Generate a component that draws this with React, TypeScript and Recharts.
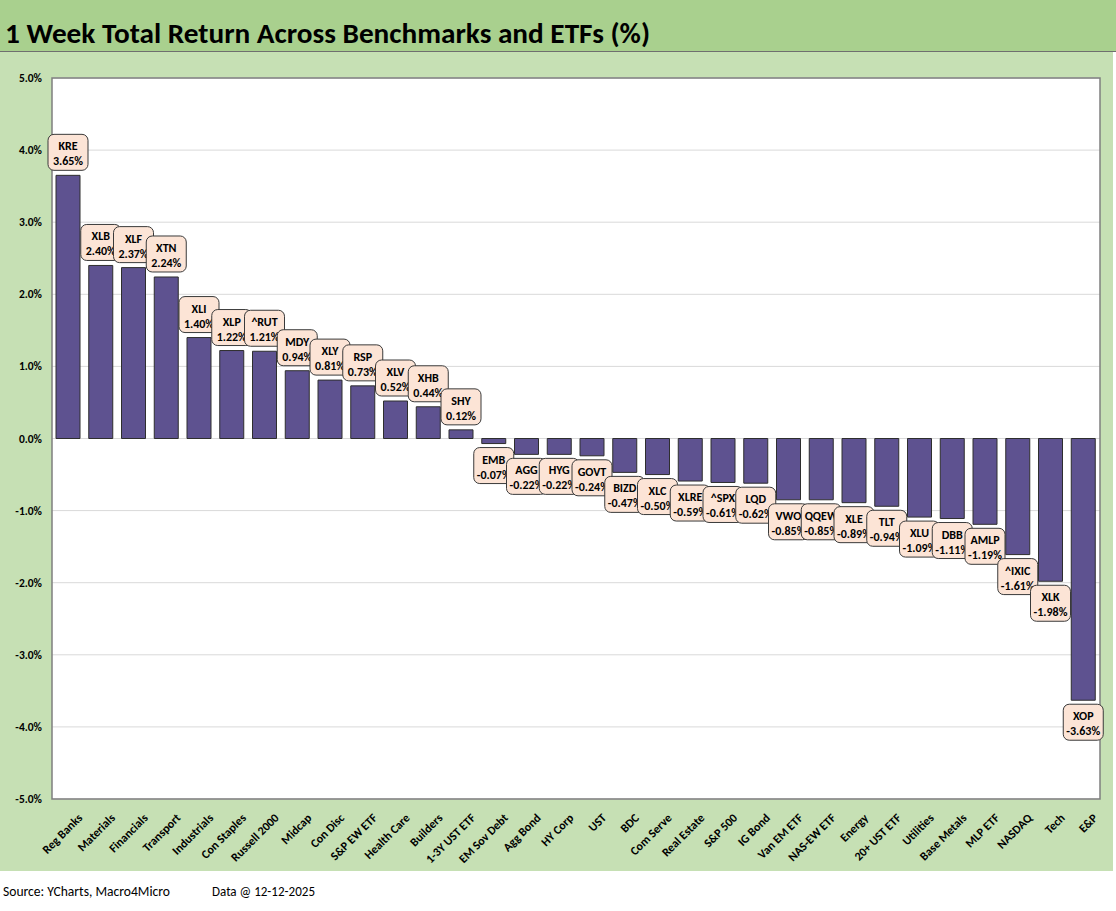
import React from 'react';
import { BarChart, Bar, XAxis, YAxis, CartesianGrid, LabelList, ReferenceArea } from 'recharts';

const categories = [
  'Reg Banks', 'Materials', 'Financials', 'Transport', 'Industrials', 'Con Staples', 'Russell 2000',
  'Midcap', 'Con Disc', 'S&P EW ETF', 'Health Care', 'Builders', '1-3Y UST ETF', 'EM Sov Debt',
  'Agg Bond', 'HY Corp', 'UST', 'BDC', 'Com Serve', 'Real Estate', 'S&P 500', 'IG Bond',
  'Van EM ETF', 'NAS-EW ETF', 'Energy', '20+ UST ETF', 'Utilities', 'Base Metals', 'MLP ETF',
  'NASDAQ', 'Tech', 'E&P',
];

const tickers = [
  'KRE', 'XLB', 'XLF', 'XTN', 'XLI', 'XLP', '^RUT', 'MDY', 'XLY', 'RSP', 'XLV', 'XHB', 'SHY', 'EMB',
  'AGG', 'HYG', 'GOVT', 'BIZD', 'XLC', 'XLRE', '^SPX', 'LQD', 'VWO', 'QQEW', 'XLE', 'TLT', 'XLU',
  'DBB', 'AMLP', '^IXIC', 'XLK', 'XOP',
];

const returns = [
  3.65, 2.40, 2.37, 2.24, 1.40, 1.22, 1.21, 0.94, 0.81, 0.73, 0.52, 0.44, 0.12, -0.07,
  -0.22, -0.22, -0.24, -0.47, -0.50, -0.59, -0.61, -0.62, -0.85, -0.85, -0.89, -0.94, -1.09,
  -1.11, -1.19, -1.61, -1.98, -3.63,
];

const yTicks = [-5, -4, -3, -2, -1, 0, 1, 2, 3, 4, 5];

const titleText = '1 Week Total Return Across Benchmarks and ETFs (%)';
const sourceText = 'Source: YCharts, Macro4Micro';
const dateText = 'Data @ 12-12-2025';

const data = categories.map((name, i) => ({ name, ticker: tickers[i], value: returns[i] }));

const FONT = 'Carlito, Lato, "Open Sans", sans-serif';

function BoxLabel(props: any) {
  const { x, y, width, height, index } = props;
  const v = returns[index];
  const cx = x + width / 2;
  const top = Math.min(y, y + height);
  const bottom = Math.max(y, y + height);
  const bw = 40;
  const bh = 36;
  const by = v >= 0 ? top - 5 - bh : bottom + 4;
  return (
    <g>
      <rect x={cx - bw / 2} y={by} width={bw} height={bh} rx={6} ry={6} fill="#FCE4D6" stroke="#3a3a3a" strokeWidth={1} />
      <text x={cx} y={by + 16} textAnchor="middle" fontFamily={FONT} fontWeight="bold" fontSize={12} fill="#000">
        {tickers[index]}
      </text>
      <text x={cx} y={by + 31} textAnchor="middle" fontFamily={FONT} fontWeight="bold" fontSize={12} fill="#000">
        {v.toFixed(2)}%
      </text>
    </g>
  );
}

function XTick(props: any) {
  const { x, y, payload } = props;
  return (
    <g transform={`translate(${x + 9},${y + 6}) rotate(-45)`}>
      <text x={0} y={0} dy={8} textAnchor="end" fontFamily={FONT} fontWeight="bold" fontSize={12} fill="#000">
        {payload.value}
      </text>
    </g>
  );
}

export default function App() {
  return (
    <div style={{ position: 'absolute', left: 0, top: 0, width: 1116, height: 911, background: '#fff', overflow: 'hidden' }}>
      <div style={{ position: 'absolute', left: 0, top: 0, width: 1116, height: 51, background: '#A9D08E', borderBottom: '1px solid #6f6f6f' }}>
        <svg width={1116} height={51} style={{ position: 'absolute', left: 0, top: 0 }}>
          <text x={5} y={43} fontFamily={FONT} fontWeight="bold" fontSize={28} fill="#000" textLength={645} lengthAdjust="spacingAndGlyphs">
            {titleText}
          </text>
        </svg>
      </div>
      <div style={{ position: 'absolute', left: 0, top: 52, width: 1113, height: 819, background: '#C6E0B4' }}>
        <BarChart width={1113} height={819} data={data} margin={{ top: 26, right: 13, bottom: 0, left: 0 }}>
          <CartesianGrid vertical={false} stroke="#D9D9D9" fill="#ffffff" />
          <XAxis
            dataKey="name"
            interval={0}
            tickLine={false}
            axisLine={false}
            height={72}
            tick={<XTick />}
          />
          <YAxis
            domain={[-5, 5]}
            ticks={yTicks}
            width={52}
            tickLine={false}
            axisLine={false}
            tickSize={8}
            tickMargin={2}
            interval={0}
            tickFormatter={(v: number) => `${v.toFixed(1)}%`}
            tick={{ fontFamily: FONT, fontWeight: 'bold', fontSize: 11.5, fill: '#000' }}
          />
          <ReferenceArea y1={-5} y2={5} fill="none" stroke="#7f7f7f" strokeWidth={1.5} ifOverflow="visible" />
          <Bar dataKey="value" fill="#5E5290" stroke="#2e2e2e" strokeWidth={1} barSize={24} isAnimationActive={false}>
            <LabelList dataKey="value" content={<BoxLabel />} />
          </Bar>
        </BarChart>
      </div>
      <svg width={1116} height={30} style={{ position: 'absolute', left: 0, top: 878 }}>
        <text x={3} y={18} fontFamily={FONT} fontSize={14} fill="#000" textLength={167} lengthAdjust="spacingAndGlyphs">
          {sourceText}
        </text>
        <text x={212} y={18} fontFamily={FONT} fontSize={14} fill="#000" textLength={103} lengthAdjust="spacingAndGlyphs">
          {dateText}
        </text>
      </svg>
    </div>
  );
}
